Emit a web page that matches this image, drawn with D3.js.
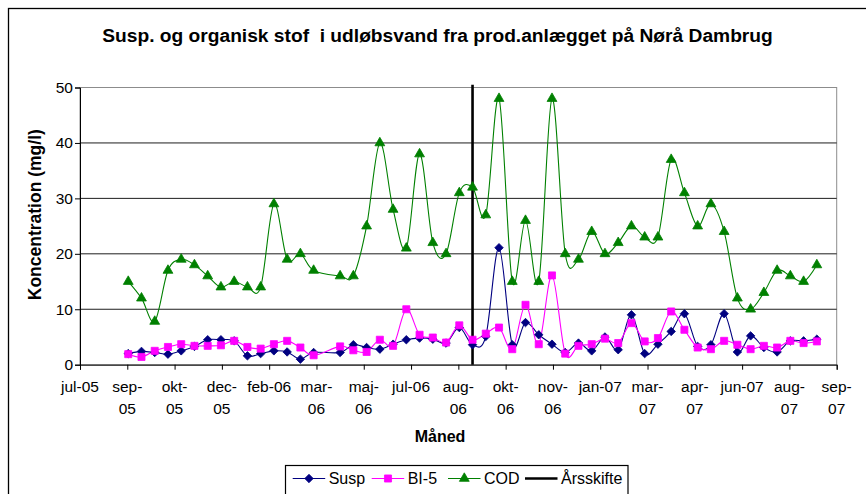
<!DOCTYPE html>
<html><head><meta charset="utf-8">
<script src="https://cdn.jsdelivr.net/npm/d3@7"></script>
<style>
html,body{margin:0;padding:0;background:#fff;}
text{font-family:Arial,"Liberation Sans",sans-serif;}
</style></head>
<body>
<svg id="chart" width="866" height="494"></svg>
<script>
// ---------- data ----------
const sampleDates = ["2005-09-06","2005-09-20","2005-10-04","2005-10-18","2005-11-01","2005-11-15","2005-11-29","2005-12-13","2005-12-27","2006-01-10","2006-01-24","2006-02-07","2006-02-21","2006-03-07","2006-03-21","2006-04-18","2006-05-02","2006-05-16","2006-05-30","2006-06-13","2006-06-27","2006-07-11","2006-07-25","2006-08-08","2006-08-22","2006-09-05","2006-09-19","2006-10-03","2006-10-17","2006-10-31","2006-11-14","2006-11-28","2006-12-12","2006-12-26","2007-01-09","2007-01-23","2007-02-06","2007-02-20","2007-03-06","2007-03-20","2007-04-03","2007-04-17","2007-05-01","2007-05-15","2007-05-29","2007-06-12","2007-06-26","2007-07-10","2007-07-24","2007-08-07","2007-08-21","2007-09-04"];
const susp = [2.0,2.4,2.2,1.9,2.5,3.3,4.5,4.5,4.3,1.6,2.0,2.5,2.3,1.0,2.2,2.2,3.6,3.1,2.8,3.7,4.5,4.8,4.6,3.9,6.7,3.6,5.1,21.1,3.6,7.6,5.4,3.7,2.2,3.9,2.5,5.0,2.7,9.0,2.0,3.7,6.0,9.2,3.3,3.6,9.2,2.3,5.2,3.1,2.3,4.3,4.3,4.6];
const bi5 = [1.9,1.4,2.5,3.2,3.7,3.4,3.4,3.5,4.3,3.2,2.9,3.7,4.3,3.1,1.7,3.3,2.6,2.3,4.5,3.4,10.0,5.4,4.9,4.0,7.1,4.5,5.6,6.7,2.8,10.8,3.7,16.1,2.0,3.4,3.7,4.7,3.9,7.5,4.2,4.8,9.6,6.3,3.1,2.8,4.3,3.6,2.8,3.4,3.1,4.3,3.9,4.2];
const cod = [15,12,7.8,17,19,18,16,14,15,14,14,29,19,20,17,16,16,25,40,28,21,38,22,20,31,32,27,48,15,26,15,48,20,19,24,20,22,25,23,23,37,31,25,29,24,12,10,13,17,16,15,18];
const yearShiftDates = ["2006-09-05","2006-09-05"];
const yearShiftValues = [0,50.5];
const tickDates = ["2005-07-17","2005-09-05","2005-10-25","2005-12-14","2006-02-02","2006-03-24","2006-05-13","2006-07-02","2006-08-21","2006-10-10","2006-11-29","2007-01-18","2007-03-09","2007-04-28","2007-06-17","2007-08-06","2007-09-25"];
const tickLabels = ["jul-05","sep-\n05","okt-\n05","dec-\n05","feb-06","mar-\n06","maj-\n06","jul-06","aug-\n06","okt-\n06","nov-\n06","jan-07","mar-\n07","apr-\n07","jun-07","aug-\n07","sep-\n07"];
const yTicks = [0,10,20,30,40,50];
const seriesNames = ["Susp","BI-5","COD","Årsskifte"];
const title = "Susp. og organisk stof  i udløbsvand fra prod.anlægget på Nørå Dambrug";
const xTitle = "Måned";
const yTitle = "Koncentration (mg/l)";

// ---------- layout ----------
const parse = d3.utcParse("%Y-%m-%d");
const svg = d3.select("#chart");
const L = 80, R = 836.7, T = 87.5, B = 364.7;
const x = d3.scaleUtc().domain([parse(tickDates[0]), parse(tickDates[tickDates.length-1])]).range([L, R]);
const y = d3.scaleLinear().domain([0, 50]).range([B, T]);

// outer chart border
svg.append("rect").attr("x",8.5).attr("y",8.5).attr("width",900).attr("height",600)
  .attr("fill","#fff").attr("stroke","#000").attr("stroke-width",1.3);

// plot border
svg.append("rect").attr("x",L).attr("y",T).attr("width",R-L).attr("height",B-T)
  .attr("fill","#fff").attr("stroke","#8c8c8c").attr("stroke-width",1);

// gridlines
svg.append("g").selectAll("line").data(yTicks.filter(v=>v>0 && v<50)).join("line")
  .attr("x1",L).attr("x2",R).attr("y1",d=>y(d)).attr("y2",d=>y(d))
  .attr("stroke","#1e1e1e").attr("stroke-width",1);

// y axis
const yAxis = svg.append("g").attr("transform",`translate(${L},0)`)
  .call(d3.axisLeft(y).tickValues(yTicks).tickSize(5).tickFormat(d3.format("d")));
yAxis.select(".domain").attr("stroke","#000");
yAxis.selectAll(".tick line").attr("stroke","#000");
yAxis.selectAll(".tick text").attr("font-size","15.5px").attr("fill","#000").attr("x",-7)
  .attr("font-family",'Arial,"Liberation Sans",sans-serif');

// x axis
const xAxis = svg.append("g").attr("transform",`translate(0,${B})`)
  .call(d3.axisBottom(x).tickValues(tickDates.map(parse)).tickSize(5).tickFormat(""));
xAxis.select(".domain").attr("stroke","#000");
xAxis.selectAll(".tick line").attr("stroke","#000");
const tl = svg.append("g");
tickDates.forEach((d,i)=>{
  const t = tl.append("text").attr("x",x(parse(d))).attr("y",392).attr("text-anchor","middle")
    .attr("font-size","15.5px").attr("fill","#000");
  tickLabels[i].split("\n").forEach((s,j)=>{
    t.append("tspan").attr("x",x(parse(d))).attr("dy", j===0?0:21.5).text(s);
  });
});

// titles
svg.append("text").attr("x",437.5).attr("y",41.5).attr("text-anchor","middle")
  .attr("font-size","19.2px").attr("font-weight","bold").attr("fill","#000")
  .style("white-space","pre").attr("xml:space","preserve").text(title);
svg.append("text").attr("x",440).attr("y",441.5).attr("text-anchor","middle")
  .attr("font-size","16px").attr("font-weight","bold").attr("fill","#000").text(xTitle);
svg.append("text").attr("transform","translate(41,214.7) rotate(-90)").attr("text-anchor","middle")
  .attr("font-size","17.5px").attr("font-weight","bold").attr("fill","#000").text(yTitle);

// symbols
const diamond = {draw(ctx, size){ const r = Math.sqrt(size/2); ctx.moveTo(0,-r); ctx.lineTo(r,0); ctx.lineTo(0,r); ctx.lineTo(-r,0); ctx.closePath(); }};

// series
const curve = d3.curveCatmullRom.alpha(0);
const mk = (vals)=> sampleDates.map((d,i)=>({x:parse(d), v:vals[i]}));
const line = d3.line().x(d=>x(d.x)).y(d=>y(d.v)).curve(curve);
const plot = svg.append("g");

// Årsskifte (behind markers)
const ys = yearShiftDates.map((d,i)=>({x:parse(d), v:yearShiftValues[i]}));
plot.append("path").datum(ys).attr("d",d3.line().x(d=>x(d.x)).y(d=>y(d.v)))
  .attr("stroke","#000").attr("stroke-width",2.6).attr("fill","none");

const series = [
  {vals:susp, color:"#000080", sym:diamond, size:36},
  {vals:bi5, color:"#ff00ff", sym:d3.symbolSquare, size:50},
  {vals:cod, color:"#008000", sym:d3.symbolTriangle, size:42}
];
series.forEach(s=>{
  const data = mk(s.vals);
  plot.append("path").datum(data).attr("d",line).attr("fill","none")
    .attr("stroke",s.color).attr("stroke-width",1.1);
});
series.forEach(s=>{
  const data = mk(s.vals);
  plot.append("g").selectAll("path").data(data).join("path")
    .attr("transform",d=>`translate(${x(d.x)},${y(d.v)})`)
    .attr("d",d3.symbol(s.sym,s.size)).attr("fill",s.color).attr("stroke",s.color).attr("stroke-width",0.8);
});

// legend
const lg = svg.append("g");
lg.append("rect").attr("x",285.5).attr("y",465.5).attr("width",342.5).attr("height",40)
  .attr("fill","#fff").attr("stroke","#000").attr("stroke-width",1.2);
const lx = [292.7, 371.7, 448, 525];
const styles = [series[0],series[1],series[2],{color:"#000",sym:null}];
seriesNames.forEach((n,i)=>{
  const st = styles[i];
  lg.append("line").attr("x1",lx[i]).attr("x2",lx[i]+32.5).attr("y1",478.5).attr("y2",478.5)
    .attr("stroke",st.color).attr("stroke-width", st.sym? 1.1 : 2.6);
  if(st.sym){
    lg.append("path").attr("transform",`translate(${lx[i]+16.3},478.5)`)
      .attr("d",d3.symbol(st.sym,st.size)).attr("fill",st.color).attr("stroke",st.color).attr("stroke-width",0.8);
  }
  lg.append("text").attr("x",lx[i]+36).attr("y",484).attr("font-size","16px").attr("fill","#000").text(n);
});
</script>
</body></html>
